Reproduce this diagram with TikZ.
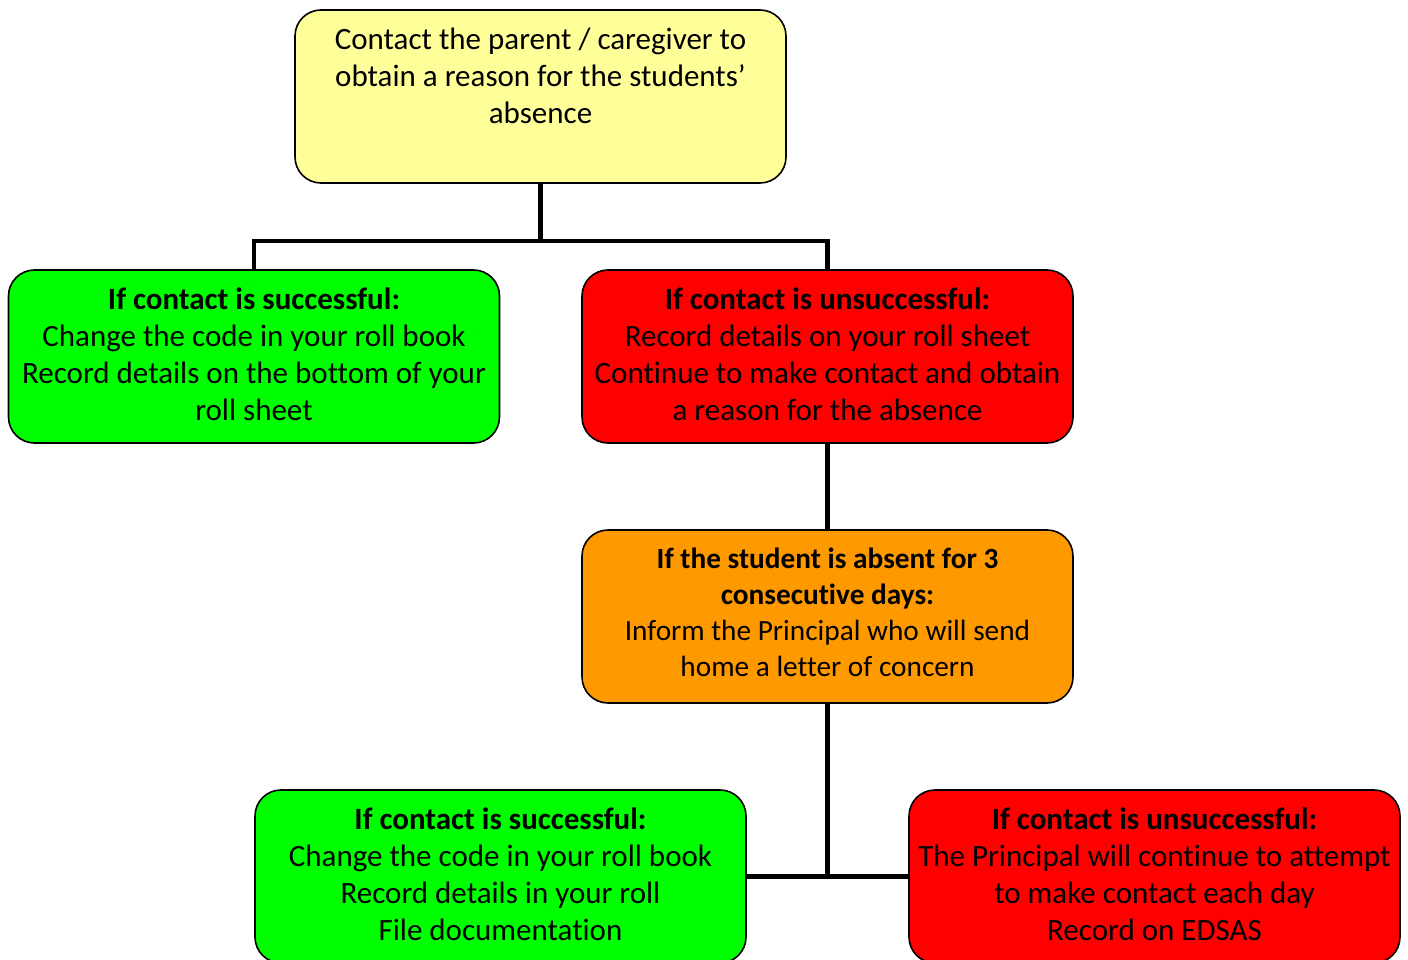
\documentclass[tikz,border=0pt]{standalone}
\usepackage{fontspec}
\setmainfont[Ligatures={NoCommon}]{Carlito}
\definecolor{yel}{HTML}{FFFF99}
\definecolor{grn}{HTML}{00FF00}
\definecolor{rd}{HTML}{FF0000}
\definecolor{org}{HTML}{FF9900}
\tikzset{
  box/.style={draw=black, line width=1.6pt, rounded corners=26pt,
    minimum width=491pt, minimum height=173pt, align=center,
    inner sep=0pt, font=\fontsize{31}{37}\selectfont},
  conn/.style={line width=4.5pt, draw=black}
}
\begin{document}
\begin{tikzpicture}[x=1pt,y=-1pt]
\clip (0,0) rectangle (1408,960);
\fill[white] (0,0) rectangle (1408,960);
\node[box, fill=yel] (top) at (540.5,96.5)
  {Contact the parent / caregiver to\\obtain a reason for the students'\\absence\\[4pt]\mbox{}};
\node[box, fill=grn] (g1) at (254,356.5)
  {\textbf{If contact is successful:}\\Change the code in your roll book\\Record details on the bottom of your\\roll sheet\\[-33pt]\mbox{}};
\node[box, fill=rd] (r1) at (827.5,356.5)
  {\textbf{If contact is unsuccessful:}\\Record details on your roll sheet\\Continue to make contact and obtain\\a reason for the absence\\[-33pt]\mbox{}};
\node[box, fill=org, font=\fontsize{29.3}{36}\selectfont] (o1) at (827.5,616.5)
  {\textbf{If the student is absent for 3}\\\textbf{consecutive days:}\\Inform the Principal who will send\\home a letter of concern\\[-27pt]\mbox{}};
\node[box, fill=grn] (g2) at (500.5,876.5)
  {\textbf{If contact is successful:}\\Change the code in your roll book\\Record details in your roll\\File documentation\\[-33pt]\mbox{}};
\node[box, fill=rd] (r2) at (1154.5,876.5)
  {\textbf{If contact is unsuccessful:}\\The Principal will continue to attempt\\to make contact each day\\Record on EDSAS\\[-33pt]\mbox{}};
\coordinate (split) at (540.5,241);
\coordinate (join) at (827.5,877);
\draw[conn] (top.south) -- (split);
\draw[conn] (split) -| (g1.north);
\draw[conn] (split) -| (r1.north);
\draw[conn] (r1.south) -- (o1.north);
\draw[conn] (o1.south) -- (join);
\draw[conn] (g2.east) -- (r2.west);
\end{tikzpicture}
\end{document}
